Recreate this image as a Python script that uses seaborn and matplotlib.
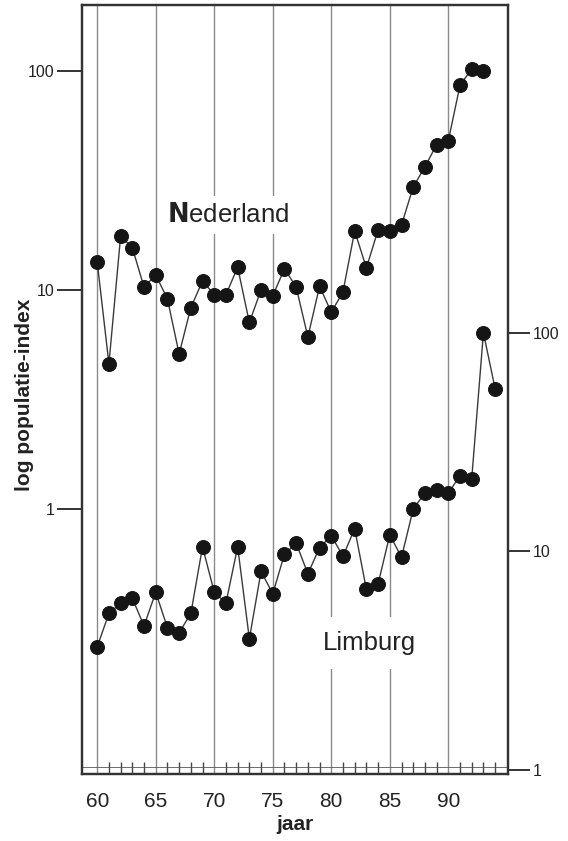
import matplotlib
matplotlib.use("Agg")
import matplotlib.pyplot as plt
import seaborn as sns
import pandas as pd
import numpy as np

years_ned = list(range(60, 94))
nederland = [13.4, 4.6, 17.6, 15.6, 10.3, 11.7, 9.1, 5.1, 8.3, 11.0,
             9.5, 9.5, 12.7, 7.1, 10.0, 9.4, 12.5, 10.3, 6.1, 10.4,
             7.9, 9.8, 18.6, 12.6, 18.8, 18.6, 19.8, 29.5, 36.5, 46.0,
             48.0, 86.0, 102.0, 100.0]

years_lim = list(range(60, 95))
limburg = [3.66, 5.2, 5.8, 6.1, 4.56, 6.5, 4.47, 4.24, 5.2, 10.5,
           6.5, 5.8, 10.5, 3.98, 8.1, 6.4, 9.7, 10.9, 7.9, 10.4,
           11.8, 9.5, 12.7, 6.7, 7.1, 11.9, 9.4, 15.6, 18.5, 19.1,
           18.5, 22.2, 21.5, 100.0, 55.5]

x_major = [60, 65, 70, 75, 80, 85, 90]
x_labels = ["60", "65", "70", "75", "80", "85", "90"]
left_ticks = [1, 10, 100]
left_labels = ["1", "10", "100"]
right_ticks = [1, 10, 100]
right_labels = ["1", "10", "100"]

sns.set_theme(style="white")
plt.rcParams['font.family'] = ['Liberation Sans', 'DejaVu Sans']

fig = plt.figure(figsize=(5.68, 8.41), dpi=100)
ax = fig.add_axes([82/568, 1-774/841, (508-82)/568, (774-5)/841])
ax2 = ax.twinx()

df_n = pd.DataFrame({"jaar": years_ned, "index": nederland})
df_l = pd.DataFrame({"jaar": years_lim, "index": limburg})

ax.set_yscale("log")
ax2.set_yscale("log")

for xv in x_major:
    ax.axvline(xv, color="#8a8a8a", lw=1.0, zorder=0)

line_kw = dict(color="#3a3a3a", linewidth=1.0, marker="o", markersize=10,
               markerfacecolor="#151515", markeredgecolor="#151515")
sns.lineplot(data=df_n, x="jaar", y="index", ax=ax, zorder=3, **line_kw)
sns.lineplot(data=df_l, x="jaar", y="index", ax=ax2, zorder=3, **line_kw)

ax.set_xlim(58.7, 95.1)
ax.set_ylim(0.0616, 200)
ax2.set_ylim(0.958, 3162)

for a in (ax, ax2):
    for s in a.spines.values():
        s.set_color("#333333")
        s.set_linewidth(1.6)
        s.set_visible(True)

ax.set_yticks(left_ticks)
ax.set_yticklabels(left_labels, fontsize=11.5)
ax.yaxis.set_minor_locator(matplotlib.ticker.NullLocator())
ax.tick_params(axis="y", which="major", direction="out", length=18, width=1.4,
               color="#333333", left=True, pad=2, labelcolor="#222222")

ax2.set_yticks(right_ticks)
ax2.set_yticklabels(right_labels, fontsize=11.5)
ax2.yaxis.set_minor_locator(matplotlib.ticker.NullLocator())
ax2.tick_params(axis="y", which="major", direction="out", length=16, width=1.4,
                color="#333333", right=True, pad=2, labelcolor="#222222")

ax.set_xticks(x_major)
ax.set_xticklabels(x_labels, fontsize=15)
ax.tick_params(axis="x", which="major", length=0, pad=13, labelcolor="#222222")
ax.set_xticks(list(range(60, 95)), minor=True)
ax.tick_params(axis="x", which="minor", direction="in", length=9, width=1.0,
               color="#444444", bottom=True)
ax.axhline(0.0616 * 10 ** (7/219), color="#555555", lw=0.6, zorder=1)

ax.set_xlabel("jaar", fontsize=15, fontweight="bold", labelpad=3, color="#222222")
ax.set_ylabel("log populatie-index", fontsize=15, fontweight="bold",
              color="#222222", va="center", ha="center")
ax.yaxis.set_label_coords(-0.134, 0.493)
ax2.set_ylabel("")

ax.annotate(r"$\bf{N}$ederland", xy=(228/568, 1-215/841), xycoords="figure fraction",
            ha="center", va="center", fontsize=18.5, color="#222222", zorder=5,
            bbox=dict(facecolor="white", edgecolor="none", pad=5))
ax2.annotate("Limburg", xy=(369/568, 1-643/841), xycoords="figure fraction",
             ha="center", va="center", fontsize=18.5, color="#222222", zorder=5,
             bbox=dict(facecolor="white", edgecolor="none", pad=10))

fig.savefig("out.png", dpi=100)
